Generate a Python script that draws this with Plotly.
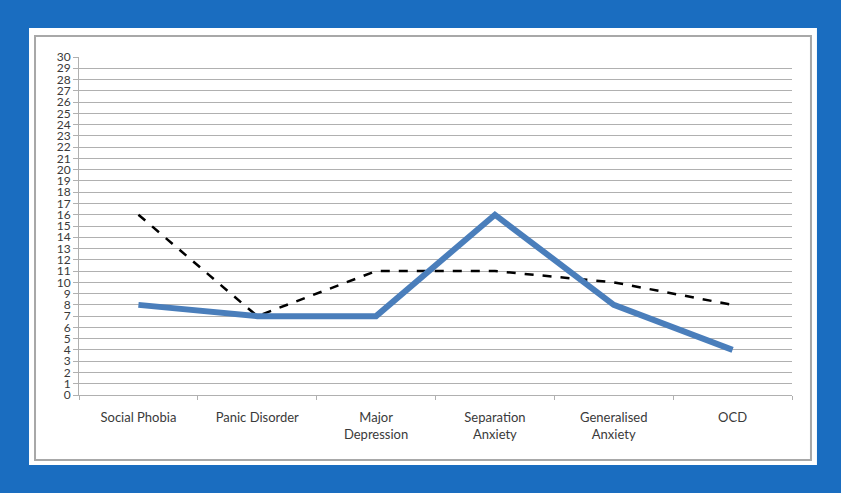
import plotly.graph_objects as go

# data
categories = ["Social Phobia", "Panic Disorder", "Major<br>Depression",
              "Separation<br>Anxiety", "Generalised<br>Anxiety", "OCD"]
solid_values = [8, 7, 7, 16, 8, 4]
dashed_values = [16, 7, 11, 11, 10, 8]
y_ticks = list(range(0, 31))

BLUE_BG = "#1a6dc0"
GRID = "#b0b0b0"
TEXT = "#3a3a3a"

fig = go.Figure()

fig.add_trace(go.Scatter(x=categories, y=dashed_values, mode="lines",
                         line=dict(color="black", width=2.5, dash="dash")))
fig.add_trace(go.Scatter(x=categories, y=solid_values, mode="lines",
                         line=dict(color="#4a7ebb", width=6)))

# white panel + thin grey frame, placed in paper coords around the plot area
fig.add_shape(type="rect", xref="paper", yref="paper", layer="below",
              x0=-0.0701, x1=1.035, y0=-0.2071, y1=1.0858,
              fillcolor="white", line=dict(width=0))
fig.add_shape(type="rect", xref="paper", yref="paper", layer="below",
              x0=-0.0617, x1=1.0266, y0=-0.1923, y1=1.0621,
              fillcolor="white", line=dict(color="#a8a8a8", width=2))

fig.update_layout(
    width=841, height=493,
    margin=dict(l=79, r=49, t=57, b=98),
    paper_bgcolor=BLUE_BG,
    plot_bgcolor="white",
    showlegend=False,
    font=dict(family="Lato", color=TEXT, size=13),
)

fig.update_xaxes(
    type="category", range=[-0.5, 5.5],
    showgrid=False, showline=True, linecolor=GRID, linewidth=1,
    ticks="outside", tickson="boundaries", ticklen=4, tickcolor=GRID,
    ticklabelstandoff=10, tickfont=dict(size=13, color=TEXT),
)
fig.update_yaxes(
    range=[0, 30], tickvals=y_ticks, ticktext=[str(v) for v in y_ticks],
    showgrid=True, gridcolor=GRID, gridwidth=1,
    showline=True, linecolor=GRID, linewidth=1,
    ticks="outside", ticklen=5, tickcolor=GRID,
    zeroline=False, tickfont=dict(size=12, color=TEXT),
)

# drop the browser's default body margin so the figure sits at the page origin
fig.write_html("out.html", config={"displayModeBar": False},
               post_script="document.body.style.margin='0';")
